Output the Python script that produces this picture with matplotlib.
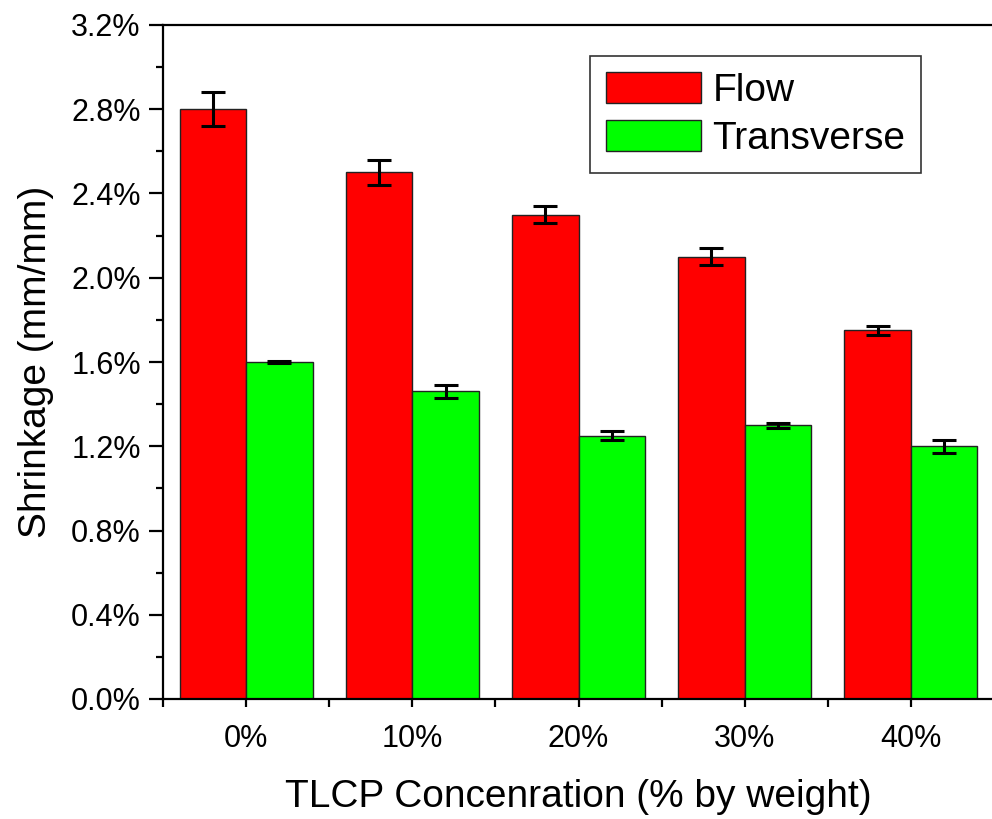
import numpy as np
import matplotlib.pyplot as plt
from matplotlib.ticker import FixedLocator, MultipleLocator, FuncFormatter

plt.rcParams['font.family'] = ['Liberation Sans', 'DejaVu Sans']

# данные
categories = ['0%', '10%', '20%', '30%', '40%']
flow = [2.80, 2.50, 2.30, 2.10, 1.75]
flow_err = [0.08, 0.06, 0.042, 0.04, 0.021]
transverse = [1.60, 1.46, 1.25, 1.30, 1.20]
transverse_err = [0.006, 0.029, 0.021, 0.012, 0.032]

fig = plt.figure(figsize=(9.92, 8.19), dpi=100)
ax = fig.add_axes([163 / 992, 120 / 819, 831 / 992, 674 / 819])

x = np.arange(len(categories))
w = 0.4
err_kw = dict(ecolor='k', elinewidth=2.2, capsize=8.3, capthick=2.2)
ax.bar(x - w / 2, flow, w, yerr=flow_err, color='#FF0000', edgecolor='#222222',
       linewidth=1.0, label='Flow', error_kw=err_kw)
ax.bar(x + w / 2, transverse, w, yerr=transverse_err, color='#00FF00', edgecolor='#222222',
       linewidth=1.0, label='Transverse', error_kw=err_kw)

ax.set_xlim(-0.5, 4.5)
ax.set_ylim(0, 3.2)

# оси
ax.set_xticks(x)
ax.set_xticklabels(categories)
ax.xaxis.set_minor_locator(FixedLocator(np.arange(-0.5, 5, 1)))
ax.yaxis.set_major_locator(MultipleLocator(0.4))
ax.yaxis.set_minor_locator(MultipleLocator(0.2))
ax.yaxis.set_major_formatter(FuncFormatter(lambda v, p: f'{v:.1f}%'))

ax.tick_params(axis='both', which='both', direction='out', width=1.6, labelsize=22)
ax.tick_params(axis='y', which='major', length=10, pad=6)
ax.tick_params(axis='y', which='minor', length=5)
ax.tick_params(axis='x', which='both', length=6, pad=12)
ax.tick_params(top=False, right=False)

for s in ['left', 'bottom', 'top']:
    ax.spines[s].set_linewidth(1.6)
ax.spines['right'].set_visible(False)

ax.set_ylabel('Shrinkage (mm/mm)', fontsize=28, labelpad=12)
ax.set_xlabel('TLCP Concenration (% by weight)', fontsize=28, labelpad=18)

# легенда, левый верхний угол рамки
leg = ax.legend(loc='upper left', bbox_to_anchor=((590 - 163) / 831, 1 - 31 / 674),
                fontsize=28, frameon=True, fancybox=False, handlelength=2.45,
                handleheight=0.85, handletextpad=0.3, borderpad=0.4, labelspacing=0.3,
                borderaxespad=0)
leg.get_frame().set_edgecolor('k')
leg.get_frame().set_linewidth(1.2)

fig.savefig('out.png', dpi=100)
